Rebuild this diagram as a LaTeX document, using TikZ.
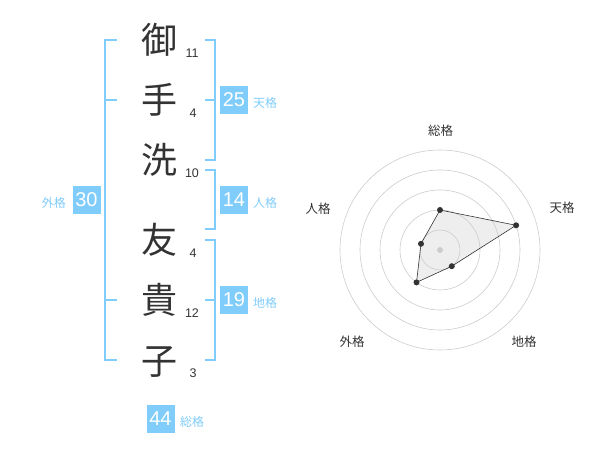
\documentclass[tikz,border=0pt]{standalone}
\usepackage{fontspec}
\setmainfont{Liberation Sans}
\newfontfamily\jp{Noto Sans CJK JP}
\definecolor{kblue}{HTML}{80CCFA}
\definecolor{ktext}{HTML}{333333}
\definecolor{kgrid}{HTML}{CCCCCC}
\definecolor{kfill}{HTML}{EEEEEE}
\begin{document}
\begin{tikzpicture}[x=1pt,y=-1pt,
  kanji/.style={inner sep=0pt,anchor=base,text=ktext,font=\jp\fontsize{36}{36}\selectfont},
  stroke/.style={inner sep=0pt,text=ktext,font=\fontsize{12.5}{12.5}\selectfont},
  numbox/.style={fill=kblue,minimum width=28pt,minimum height=28pt,inner sep=0pt,text=white,font=\fontsize{20}{20}\selectfont},
  blab/.style={inner sep=0pt,text=kblue,font=\jp\fontsize{12}{12}\selectfont},
  bracket/.style={draw=kblue,line width=2pt},
  rlab/.style={inner sep=0pt,text=ktext,font=\jp\fontsize{12.5}{12.5}\selectfont},
  ring/.style={draw=kgrid,line width=0.6pt},
  vdot/.style={circle,fill=ktext,inner sep=0pt,minimum size=6pt}]
\useasboundingbox (0,0) rectangle (600,470);
% characters
\node[kanji] (k1) at (159,54) {御};
\node[kanji] (k2) at (159,114) {手};
\node[kanji] (k3) at (159,174) {洗};
\node[kanji] (k4) at (159,254) {友};
\node[kanji] (k5) at (159,314) {貴};
\node[kanji] (k6) at (159,374) {子};
\node[stroke] (s1) at (192,53) {11};
\node[stroke] (s2) at (193,113) {4};
\node[stroke] (s3) at (192,173) {10};
\node[stroke] (s4) at (193,253) {4};
\node[stroke] (s5) at (192,313) {12};
\node[stroke] (s6) at (193,373) {3};
% left bracket
\draw[bracket] (117,40) -- (105,40) -- (105,360) -- (117,360);
\draw[bracket] (105,100) -- (117,100);
\draw[bracket] (105,300) -- (117,300);
% right brackets
\draw[bracket] (205,40) -- (215,40) -- (215,160) -- (205,160);
\draw[bracket] (205,100) -- (215,100);
\draw[bracket] (205,170) -- (215,170) -- (215,229) -- (205,229);
\draw[bracket] (205,240) -- (215,240) -- (215,360) -- (205,360);
\draw[bracket] (205,300) -- (215,300);
% boxes
\node[numbox] (ten) at (234,100) {25};
\node[blab,anchor=west] (tenl) at (253,103) {天格};
\node[numbox] (jin) at (234,200) {14};
\node[blab,anchor=west] (jinl) at (253,203) {人格};
\node[numbox] (chi) at (234,300) {19};
\node[blab,anchor=west] (chil) at (253,303) {地格};
\node[numbox] (gai) at (86.5,200) {30};
\node[blab,anchor=east] (gail) at (66,203) {外格};
\node[numbox] (sou) at (160.5,419) {44};
\node[blab,anchor=west] (soul) at (180,422) {総格};
% radar
\coordinate (c) at (440,250);
\coordinate (p1) at (440,210);
\coordinate (p2) at (516.1,225.3);
\coordinate (p3) at (451.8,266.2);
\coordinate (p4) at (416.5,282.4);
\coordinate (p5) at (421.0,243.8);
\fill[kfill] (p1) -- (p2) -- (p3) -- (p4) -- (p5) -- cycle;
\foreach \r in {20,40,60,80,100} \draw[ring] (c) circle (\r);
\fill[kgrid] (c) circle (3);
\draw[ktext,line width=0.6pt] (p1) -- (p2) -- (p3) -- (p4) -- (p5) -- cycle;
\foreach \p in {p1,p2,p3,p4,p5} \node[vdot] at (\p) {};
\node[rlab] (r1) at (440.7,131) {総格};
\node[rlab] (r2) at (562,208) {天格};
\node[rlab] (r3) at (524,342) {地格};
\node[rlab] (r4) at (352,342) {外格};
\node[rlab] (r5) at (318,209) {人格};
\end{tikzpicture}
\end{document}
